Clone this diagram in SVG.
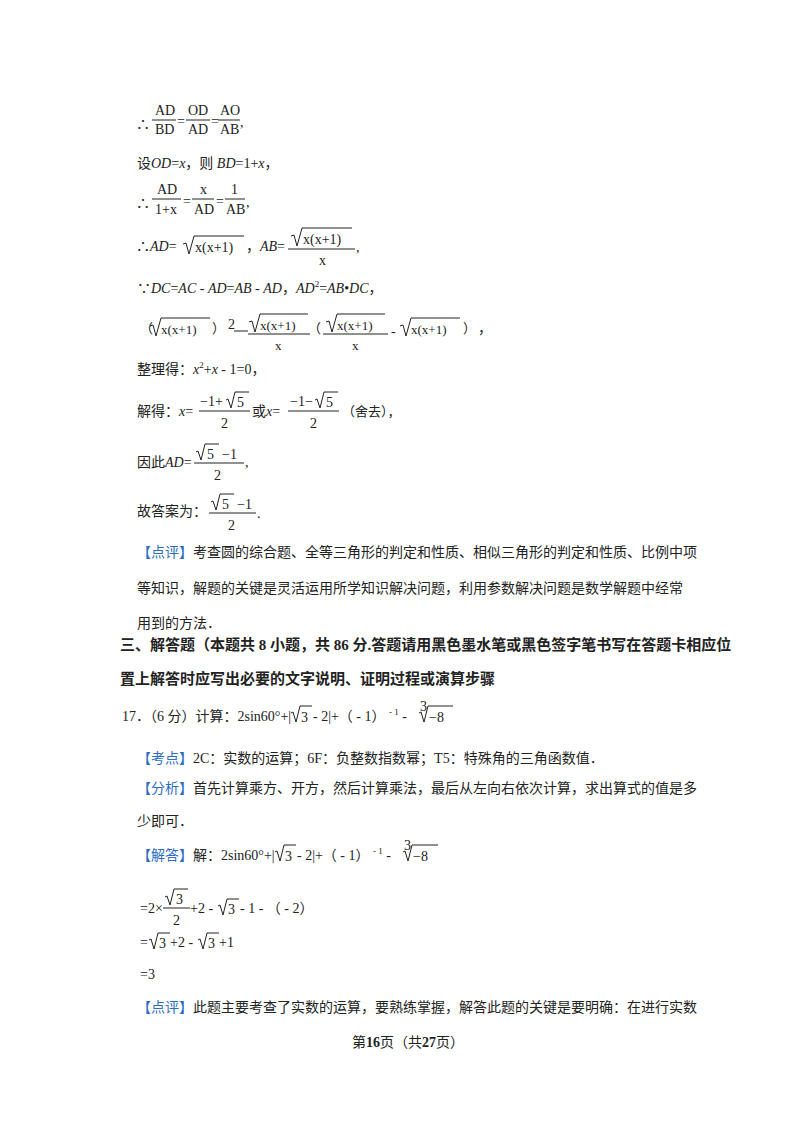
<svg xmlns="http://www.w3.org/2000/svg" width="800" height="1132" viewBox="0 0 800 1132">
<style>
text{font-family:"Liberation Serif","Noto Sans CJK SC",serif;font-size:14px;fill:#222}
.s{font-size:13px}
.i{font-style:italic}
.b{font-weight:bold;font-size:15px}
.blue{fill:#2b6cc4}
.r{fill:none;stroke:#222;stroke-width:1}
.bar{stroke:#222;stroke-width:1}
</style>
<rect width="800" height="1132" fill="#fff"/>
<g id="l1">
<text x="136" y="129">∴</text>
<text x="155" y="115">AD</text><line class="bar" x1="152" y1="120" x2="176" y2="120"/><text x="155" y="134">BD</text>
<text x="177" y="126">=</text>
<text x="188" y="115">OD</text><line class="bar" x1="186" y1="120" x2="210" y2="120"/><text x="188" y="134">AD</text>
<text x="211" y="126">=</text>
<text x="220" y="115">AO</text><line class="bar" x1="218" y1="120" x2="240" y2="120"/><text x="220" y="134">AB</text>
<text x="240" y="127">,</text>
</g>
<text x="137" y="168">设<tspan class="i">OD</tspan>=<tspan class="i">x</tspan>，则 <tspan class="i">BD</tspan>=1+<tspan class="i">x</tspan>，</text>
<g id="l3">
<text x="136" y="208">∴</text>
<text x="157" y="194">AD</text><line class="bar" x1="152" y1="199" x2="181" y2="199"/><text x="155" y="214">1+x</text>
<text x="183" y="206">=</text>
<text x="200" y="194">x</text><line class="bar" x1="192" y1="199" x2="214" y2="199"/><text x="194" y="214">AD</text>
<text x="216" y="206">=</text>
<text x="231" y="194">1</text><line class="bar" x1="225" y1="199" x2="245" y2="199"/><text x="226" y="214">AB</text>
<text x="246" y="207">,</text>
</g>
<g id="l4">
<text x="136" y="251">∴<tspan class="i">AD</tspan>=</text>
<path class="r" d="M183,244 L186,243 L189,254 L194,236 L244,236"/>
<text x="195" y="252">x(x+1)</text>
<text x="246" y="251">，<tspan class="i">AB</tspan>=</text>
<path class="r" d="M291,236 L294,235 L297,246 L302,228 L352,228"/>
<text x="303" y="244">x(x+1)</text>
<line class="bar" x1="288" y1="249" x2="355" y2="249"/>
<text x="319" y="265">x</text>
<text x="356" y="252">,</text>
</g>
<text x="137" y="293">∵<tspan class="i">DC</tspan>=<tspan class="i">AC</tspan> - <tspan class="i">AD</tspan>=<tspan class="i">AB</tspan> - <tspan class="i">AD</tspan>，<tspan class="i">AD</tspan><tspan font-size="9" dy="-6">2</tspan><tspan dy="6">=</tspan><tspan class="i">AB</tspan>•<tspan class="i">DC</tspan>，</text>
<g id="l6">
<text x="140" y="333" class="s">（</text>
<path class="r" d="M150,326 L153,325 L156,336 L161,318 L210,318"/>
<text x="161" y="334" class="s">x(x+1)</text>
<text x="212" y="333" class="s">）</text>
<text x="228" y="329" font-size="9">2</text>
<line class="bar" x1="234" y1="331" x2="248" y2="331"/>
<path class="r" d="M249,322 L252,321 L255,332 L260,314 L308,314"/>
<text x="260" y="330" class="s">x(x+1)</text>
<line class="bar" x1="248" y1="334" x2="310" y2="334"/>
<text x="275" y="350" class="s">x</text>
<text x="308" y="333" class="s">（</text>
<path class="r" d="M326,322 L329,321 L332,332 L337,314 L385,314"/>
<text x="337" y="330" class="s">x(x+1)</text>
<line class="bar" x1="323" y1="334" x2="388" y2="334"/>
<text x="352" y="350" class="s">x</text>
<text x="391" y="336">-</text>
<path class="r" d="M400,326 L403,325 L406,336 L411,318 L460,318"/>
<text x="411" y="334" class="s">x(x+1)</text>
<text x="463" y="333" class="s">）</text>
<text x="478" y="333">，</text>
</g>
<text x="137" y="374">整理得：<tspan class="i">x</tspan><tspan font-size="9" dy="-6">2</tspan><tspan dy="6">+</tspan><tspan class="i">x</tspan> - 1=0，</text>
<g id="l8">
<text x="137" y="416">解得：<tspan class="i">x</tspan>=</text>
<text x="200" y="406">−1+</text>
<path class="r" d="M226,400 L228,399 L231,408 L235,392 L249,392"/>
<text x="237" y="407">5</text>
<line class="bar" x1="199" y1="411" x2="250" y2="411"/>
<text x="221" y="428">2</text>
<text x="252" y="416">或<tspan class="i">x</tspan>=</text>
<text x="290" y="406">−1−</text>
<path class="r" d="M315,400 L317,399 L320,408 L324,392 L338,392"/>
<text x="326" y="407">5</text>
<line class="bar" x1="288" y1="411" x2="339" y2="411"/>
<text x="310" y="428">2</text>
<text x="342" y="416" class="s">（舍去），</text>
</g>
<g id="l9">
<text x="137" y="467">因此<tspan class="i">AD</tspan>=</text>
<path class="r" d="M196,452 L198,451 L201,460 L205,444 L219,444"/>
<text x="207" y="459">5</text>
<text x="222" y="459">−1</text>
<line class="bar" x1="194" y1="463" x2="244" y2="463"/>
<text x="214" y="480">2</text>
<text x="245" y="467">,</text>
</g>
<g id="l10">
<text x="137" y="516">故答案为：</text>
<path class="r" d="M211,502 L213,501 L216,510 L220,494 L234,494"/>
<text x="222" y="509">5</text>
<text x="237" y="509">−1</text>
<line class="bar" x1="209" y1="513" x2="256" y2="513"/>
<text x="228" y="530">2</text>
<text x="257" y="518">.</text>
</g>
<text x="137" y="557"><tspan class="blue">【点评】</tspan>考查圆的综合题、全等三角形的判定和性质、相似三角形的判定和性质、比例中项</text>
<text x="137" y="593">等知识，解题的关键是灵活运用所学知识解决问题，利用参数解决问题是数学解题中经常</text>
<text x="137" y="628">用到的方法．</text>
<text x="120" y="650" class="b">三、解答题（本题共 8 小题，共 86 分.答题请用黑色墨水笔或黑色签字笔书写在答题卡相应位</text>
<text x="120" y="684" class="b">置上解答时应写出必要的文字说明、证明过程或演算步骤</text>
<g id="q17">
<text x="122" y="721">17．（6 分）计算：2sin60°+|</text>
<path class="r" d="M291,713 L293,712 L296,722 L300,706 L312,706"/>
<text x="301" y="722">3</text>
<text x="313" y="721"> - 2|+（ - 1） <tspan font-size="9" dy="-6">- 1</tspan><tspan dy="6"> -</tspan></text>
<text x="420" y="711" font-size="9">3</text>
<path class="r" d="M419,713 L421,712 L424,722 L428,706 L453,706"/>
<text x="429" y="722">−8</text>
</g>
<text x="137" y="763"><tspan class="blue">【考点】</tspan>2C：实数的运算；6F：负整数指数幂；T5：特殊角的三角函数值．</text>
<text x="137" y="793"><tspan class="blue">【分析】</tspan>首先计算乘方、开方，然后计算乘法，最后从左向右依次计算，求出算式的值是多</text>
<text x="137" y="826">少即可．</text>
<g id="sol">
<text x="137" y="860"><tspan class="blue">【解答】</tspan>解：2sin60°+|</text>
<path class="r" d="M275,852 L277,851 L280,861 L284,845 L296,845"/>
<text x="285" y="861">3</text>
<text x="297" y="860"> - 2|+（ - 1） <tspan font-size="9" dy="-6">- 1</tspan><tspan dy="6"> -</tspan></text>
<text x="404" y="850" font-size="9">3</text>
<path class="r" d="M403,852 L405,851 L408,861 L412,845 L438,845"/>
<text x="413" y="861">−8</text>
<text x="140" y="913">=2×</text>
<path class="r" d="M165,897 L167,896 L170,905 L174,889 L188,889"/>
<text x="176" y="904">3</text>
<line class="bar" x1="163" y1="908" x2="190" y2="908"/>
<text x="173" y="925">2</text>
<text x="190" y="913">+2 - </text>
<path class="r" d="M218,906 L220,905 L223,915 L227,899 L239,899"/>
<text x="228" y="914">3</text>
<text x="240" y="913"> - 1 - （ - 2）</text>
<text x="140" y="947">=</text>
<path class="r" d="M149,940 L151,939 L154,949 L158,933 L170,933"/>
<text x="159" y="948">3</text>
<text x="170" y="947">+2 - </text>
<path class="r" d="M198,940 L200,939 L203,949 L207,933 L219,933"/>
<text x="208" y="948">3</text>
<text x="219" y="947">+1</text>
<text x="140" y="979">=3</text>
</g>
<text x="137" y="1012"><tspan class="blue">【点评】</tspan>此题主要考查了实数的运算，要熟练掌握，解答此题的关键是要明确：在进行实数</text>
<text x="352" y="1047" font-size="12">第<tspan font-weight="bold" font-size="14">16</tspan>页（共<tspan font-weight="bold" font-size="14">27</tspan>页）</text>
</svg>
